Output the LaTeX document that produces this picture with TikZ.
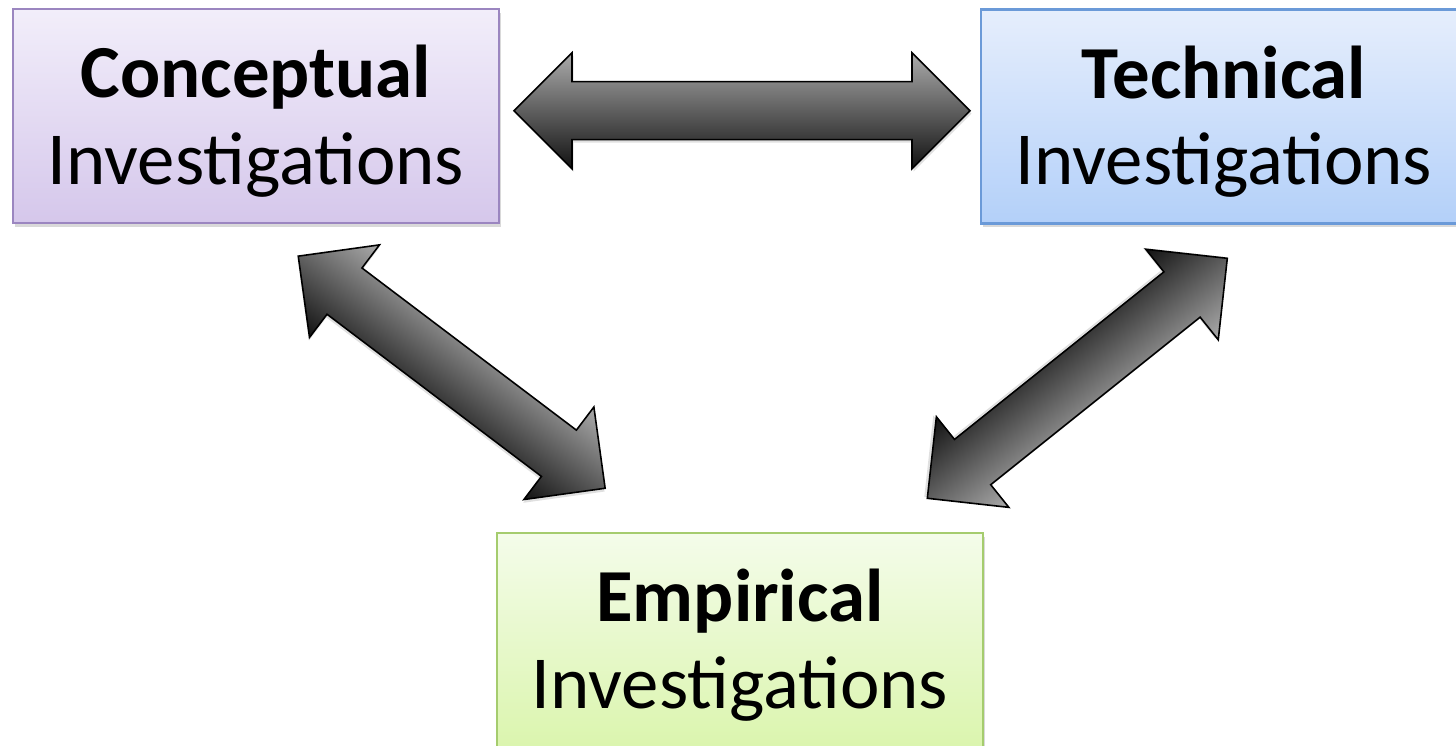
\documentclass[tikz,border=0pt]{standalone}
\usepackage{fontspec}
\setmainfont{Carlito}
\usepackage{tikz}
\usetikzlibrary{positioning, shadows, calc}
\usepackage{xcolor}
\definecolor{cpborder}{HTML}{9B86C0}
\definecolor{cptop}{HTML}{F2EEFA}
\definecolor{cpbot}{HTML}{D5C7EB}
\definecolor{tcborder}{HTML}{6B9AD8}
\definecolor{tctop}{HTML}{E6EEFC}
\definecolor{tcbot}{HTML}{B3D0F9}
\definecolor{emborder}{HTML}{A5CC6E}
\definecolor{emtop}{HTML}{F4FCEA}
\definecolor{embot}{HTML}{DBF5AE}
\definecolor{arlight}{HTML}{ABABAB}
\definecolor{ardark}{HTML}{121212}

\begin{document}
\begin{tikzpicture}[x=0.02cm, y=-0.02cm,
          inv/.style={line width=1.2pt, minimum width=9.72cm, minimum height=4.28cm, align=center,
            font=\fontsize{42.6}{49.3}\selectfont,
            drop shadow={shadow xshift=0.04cm, shadow yshift=-0.08cm, opacity=0.25, fill=black!60}},
          bigarrow/.style={draw=black, line width=0.9pt, top color=arlight, bottom color=ardark,
            drop shadow={shadow xshift=0.03cm, shadow yshift=-0.06cm, opacity=0.2, fill=black!60}}]
        \useasboundingbox (0,0) rectangle (1456,746);
        \node[inv, draw=cpborder, top color=cptop, bottom color=cpbot] (concept) at (256,116) {\rule{0pt}{1.25cm}\textbf{Conceptual}\\Investigations};
        \node[inv, draw=tcborder, top color=tctop, bottom color=tcbot] (techn) at (1224,116.5) {\rule{0pt}{1.25cm}\textbf{Technical}\\Investigations};
        \node[inv, draw=emborder, top color=emtop, bottom color=embot] (empir) at (740,640) {\rule{0pt}{1.25cm}\textbf{Empirical}\\Investigations};
        % double arrows between the three boxes
        \foreach \cx/\cy/\ang/\len in {742/110.7/0/456, 451.7/372.2/-37.1/384.8, 1077.3/378.3/-141.34/384.2} {
          \pgfmathsetmacro{\h}{\len/2}
          \begin{scope}[transform canvas={shift={(\cx,\cy)}, rotate=\ang}]
            \path[bigarrow] (-\h,0) -- (-\h+58,58) -- (-\h+58,29) -- (\h-58,29) -- (\h-58,58) -- (\h,0)
              -- (\h-58,-58) -- (\h-58,-29) -- (-\h+58,-29) -- (-\h+58,-58) -- cycle;
          \end{scope}
        }
      \end{tikzpicture}
\end{document}
